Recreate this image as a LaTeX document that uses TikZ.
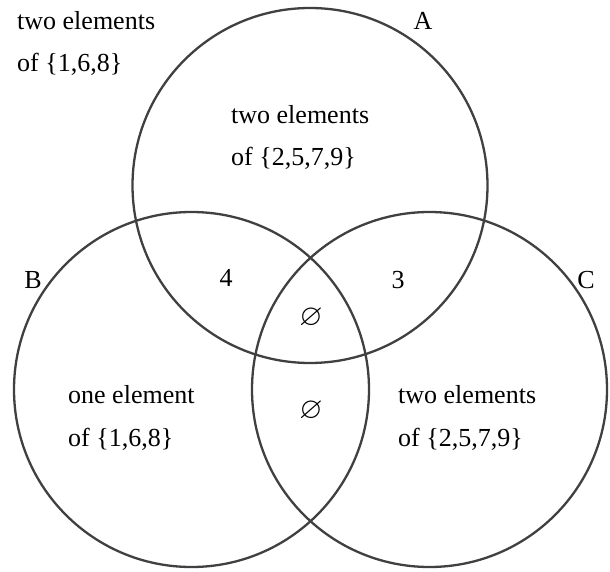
\documentclass[tikz,border=0pt]{standalone}
\usepackage{amssymb}
\usepackage{fontspec}
\setmainfont{Liberation Serif}
\usepackage{tikz}
\definecolor{ringgray}{RGB}{64,64,64}
\newcommand{\lbl}{\fontsize{26}{42.5}\selectfont}

\begin{document}
\begin{tikzpicture}[
  x=1pt, y=-1pt,
  font=\lbl,
  setring/.style={draw=ringgray, line width=2.3pt, circle, minimum size=355pt, inner sep=0pt},
  txt/.style={inner sep=0pt, anchor=base west, align=left},
  tag/.style={inner sep=0pt, anchor=base},
  empty/.style={inner sep=0pt, font=\fontsize{30}{36}\selectfont}
]
\useasboundingbox (0,0) rectangle (610,572);
% the three sets
\node[setring] (A) at (310,185.5) {};
\node[setring] (B) at (191.5,389.5) {};
\node[setring] (C) at (429.5,389.5) {};
% set names
\node[tag] (nameA) at (423,30) {A};
\node[tag] (nameB) at (33,288) {B};
\node[tag] (nameC) at (586,288) {C};
% region counts (base = last line)
\node[txt] (outside) at (17,72) {two elements\\of \{1,6,8\}};
\node[txt] (onlyA) at (231,166) {two elements\\of \{2,5,7,9\}};
\node[txt] (onlyB) at (68,446) {one element\\of \{1,6,8\}};
\node[txt] (onlyC) at (398,446) {two elements\\of \{2,5,7,9\}};
\node[tag] (AB) at (226,286) {4};
\node[tag] (AC) at (398,288) {3};
\node[empty] (ABC) at (311,318) {$\varnothing$};
\node[empty] (BC) at (311,411) {$\varnothing$};
\end{tikzpicture}
\end{document}
